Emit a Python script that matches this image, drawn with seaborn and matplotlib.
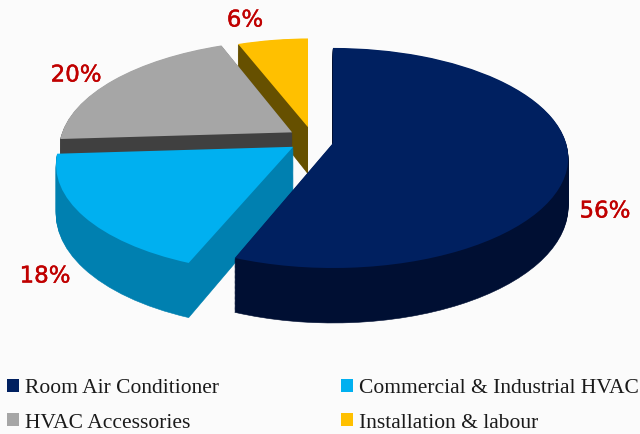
import numpy as np
import seaborn as sns
import matplotlib
matplotlib.use("Agg")
import matplotlib.pyplot as plt
import matplotlib.patheffects as pe
from matplotlib.transforms import Transform, Affine2D, Bbox, TransformedBbox

categories = ["Room Air Conditioner", "Commercial & Industrial HVAC", "HVAC Accessories", "Installation & labour"]
shares = [56, 18, 20, 6]
top_colors = ["#002060", "#00b0f0", "#a6a6a6", "#ffc000"]
side_colors = ["#000f33", "#0080b0", "#404040", "#665000"]

sns.set_theme(style="white")
BG = "#fbfbfb"
fig = plt.figure(figsize=(6.4, 4.34), dpi=100, facecolor=BG)
ax = fig.add_axes([0, 0, 1, 1])
ax.set_facecolor(BG)


class Tilt(Transform):
    """Projects the flat pie plane (plus a depth) on to the picture."""
    input_dims = output_dims = 2

    def __init__(self, z=0.0, cx=333.0, cy=143.0, a=233.0, b=108.0, k=0.136, d=47.5):
        super().__init__()
        self.z, self.cx, self.cy, self.a, self.b, self.k, self.d = z, cx, cy, a, b, k, d

    def transform_non_affine(self, xy):
        xy = np.asarray(xy, float)
        w = 1 + self.k * xy[:, 1]
        return np.column_stack([
            self.cx + self.a * xy[:, 0] / w,
            self.cy + (-self.b * xy[:, 1] + self.d * self.z) / w,
        ])


# slice shifts in the pie plane, per-slice radius and right-hand cut of the slice
shifts = [(0.0, 0.0), (-0.17, -0.035), (-0.178, 0.10), (-0.11, 0.15)]
radii = [1.0, 1.0, 1.0, 0.965]
right_cut = [640, 293.5, 640, 307.5]
order = [3, 2, 1, 0]
layers = np.linspace(1, 0, 45)

for pos, i in enumerate(order):
    for j, z in enumerate(layers):
        is_top = j == len(layers) - 1
        wedges, _ = ax.pie(shares, startangle=90, counterclock=False, radius=1,
                           colors=top_colors if is_top else side_colors,
                           wedgeprops=dict(linewidth=0.4 if not is_top else 0))
        for n, w in enumerate(wedges):
            if n != i:
                w.remove()
                continue
            w.set_radius(radii[i])
            w.set_edgecolor(side_colors[i])
            w.set_transform(Affine2D().translate(*shifts[i]) + Tilt(z) + ax.transData)
            w.set_zorder(pos * 100 + j)
            w.set_gid(f"slice{i}")

ax.set_aspect("auto")
ax.set_xlim(0, 640)
ax.set_ylim(434, 0)
ax.axis("off")
for w in ax.patches:
    i = int(w.get_gid()[-1])
    w.set_clip_on(True)
    w.set_clip_box(TransformedBbox(Bbox([[0, 0], [right_cut[i], 434]]), ax.transData))

label_xy = [(605, 211), (45, 276), (76, 75), (245, 20)]
for v, (x, y) in zip(shares, label_xy):
    ax.text(x, y, f"{v}%", color="#c00000", fontsize=16.5, ha="center", va="center",
            family="DejaVu Sans", zorder=1000,
            path_effects=[pe.withStroke(linewidth=0.3, foreground="#c00000")])

# legend is filled column by column, the reference reads row by row
legend_order = [0, 2, 1, 3]
legend_handles = [plt.Rectangle((0, 0), 1, 1, facecolor=top_colors[i], linewidth=0) for i in legend_order]
legend_labels = [categories[i] for i in legend_order]
leg = ax.legend(legend_handles, legend_labels, ncol=2, loc="lower left", bbox_to_anchor=(0.003, -0.009),
                frameon=False, prop=dict(family="Liberation Serif", size=15.5),
                handlelength=0.56, handleheight=0.56, handletextpad=0.25,
                columnspacing=5.69, labelspacing=0.72, borderpad=0.0, borderaxespad=0.25)
leg.set_zorder(1000)
for t in leg.get_texts():
    t.set_color("#1a1a1a")

fig.savefig("out.png", dpi=100, facecolor=BG)
